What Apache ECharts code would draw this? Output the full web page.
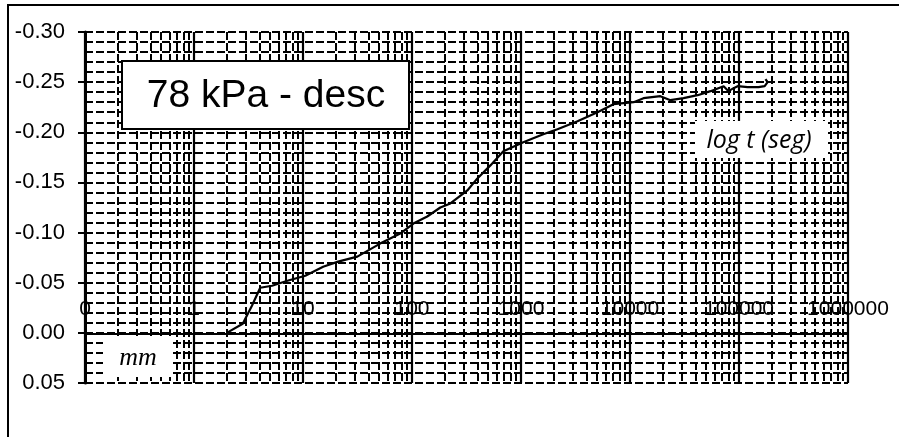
<!DOCTYPE html>
<html>
<head>
<meta charset="utf-8">
<script src="https://cdn.jsdelivr.net/npm/echarts@6/dist/echarts.min.js"></script>
<style>html,body{margin:0;padding:0;background:#fff}#c{width:899px;height:437px}</style>
</head>
<body>
<div id="c"></div>
<script>
// time (s) and settlement (mm)
const tSec = [2.0, 2.8, 3.4, 4.05, 5.2, 7.2, 10.5, 15.3, 21, 31.5, 51, 78, 103, 138, 182, 225, 322, 398, 524, 689, 1050, 1600, 2160, 3300, 5030, 7050, 10800, 13300, 19000, 23500, 31000, 41700, 54800, 72200, 80200, 89200, 97100, 120000, 151000, 172000, 183000, 175000];
const dMm  = [0.000, -0.009, -0.027, -0.045, -0.047, -0.052, -0.057, -0.066, -0.071, -0.076, -0.089, -0.099, -0.109, -0.116, -0.125, -0.129, -0.142, -0.154, -0.167, -0.181, -0.190, -0.198, -0.203, -0.211, -0.220, -0.228, -0.230, -0.234, -0.236, -0.232, -0.234, -0.237, -0.241, -0.246, -0.241, -0.244, -0.246, -0.245, -0.245, -0.246, -0.250, -0.253];
const xTickLabels = ['0', '1', '10', '100', '1000', '10000', '100000', '1000000'];
const titleText = '78 kPa - desc';
const xName = 'log t (seg)';
const yName = 'mm';

const minorX = [];
for (let n = -1; n <= 5; n++) for (let k = 2; k <= 9; k++) minorX.push({ xAxis: k * Math.pow(10, n) });

const dash = { color: '#000', width: 2, type: [8, 3] };
const xLabelFmt = v => { const i = Math.round(Math.log10(v)) + 1; return xTickLabels[i] !== undefined ? xTickLabels[i] : ''; };
const chart = echarts.init(document.getElementById('c'), null, { renderer: 'canvas' });
chart.setOption({
  animation: false,
  backgroundColor: '#fff',
  textStyle: { fontFamily: 'Liberation Sans' },
  grid: [
    { left: 85, top: 32, right: 51, bottom: 54, containLabel: false },
    { left: 85, top: 334, right: 51, height: 49, containLabel: false }
  ],
  xAxis: [
    {
      gridIndex: 0, type: 'log', logBase: 10, min: 0.1, max: 1000000, splitNumber: 10,
      axisLine: { show: false, onZero: false },
      axisTick: { show: false },
      axisLabel: { show: false },
      splitLine: { show: true, lineStyle: { color: '#000', width: 2.2, type: 'solid' } }
    },
    {
      gridIndex: 1, type: 'log', logBase: 10, min: 0.1, max: 1000000, splitNumber: 10,
      position: 'top',
      axisLine: { show: true, onZero: false, lineStyle: { color: '#000', width: 1.8 } },
      axisTick: { show: false },
      axisLabel: {
        margin: 14, color: '#000', fontSize: 21, fontFamily: 'Liberation Sans',
        showMinLabel: true, showMaxLabel: true, formatter: xLabelFmt
      },
      splitLine: { show: false }
    }
  ],
  yAxis: [
    {
      gridIndex: 0, type: 'value', inverse: true, min: -0.30, max: 0.05, interval: 0.05,
      axisLine: { show: true, onZero: false, lineStyle: { color: '#000', width: 3 } },
      axisTick: { show: true, length: 7, lineStyle: { color: '#000', width: 2 } },
      axisLabel: {
        margin: 20, color: '#000', fontSize: 22, fontFamily: 'Liberation Sans',
        formatter: v => Math.abs(v) < 1e-9 ? '0.00' : v.toFixed(2)
      },
      splitLine: { show: true, lineStyle: dash },
      minorTick: { show: false, splitNumber: 5 },
      minorSplitLine: { show: true, lineStyle: dash }
    },
    {
      gridIndex: 1, type: 'value', min: 0, max: 1, show: false
    }
  ],
  series: [
    {
      type: 'line', data: [], z: 1, silent: true, xAxisIndex: 0, yAxisIndex: 0,
      markLine: { silent: true, symbol: ['none', 'none'], label: { show: false },
        lineStyle: dash, emphasis: { disabled: true }, animation: false, data: minorX }
    },
    {
      type: 'line', z: 5, showSymbol: false, symbol: 'none', xAxisIndex: 0, yAxisIndex: 0,
      lineStyle: { color: '#000', width: 2.2 },
      data: tSec.map((t, i) => [t, dMm[i]])
    }
  ],
  graphic: [
    { type: 'rect', z: 100, silent: true, shape: { x: 8, y: 5, width: 1000, height: 1000 }, style: { fill: 'none', stroke: '#000', lineWidth: 2 } },
    { type: 'rect', z: 100, shape: { x: 122, y: 61, width: 287, height: 68 }, style: { fill: '#fff', stroke: '#000', lineWidth: 2 } },
    { type: 'text', z: 101, x: 266, y: 96, style: { text: titleText, font: '39px "Liberation Sans"', fill: '#000', align: 'center', verticalAlign: 'middle' } },
    { type: 'rect', z: 100, shape: { x: 695, y: 121, width: 133, height: 37 }, style: { fill: '#fff' } },
    { type: 'text', z: 101, x: 759, y: 141, style: { text: xName, font: 'italic 25px "Open Sans"', fill: '#000', align: 'center', verticalAlign: 'middle' } },
    { type: 'rect', z: 100, shape: { x: 103, y: 336, width: 70, height: 41 }, style: { fill: '#fff' } },
    { type: 'text', z: 101, x: 138, y: 358, style: { text: yName, font: 'italic 26px "Liberation Serif"', fill: '#000', align: 'center', verticalAlign: 'middle' } }
  ]
});
</script>
</body>
</html>
